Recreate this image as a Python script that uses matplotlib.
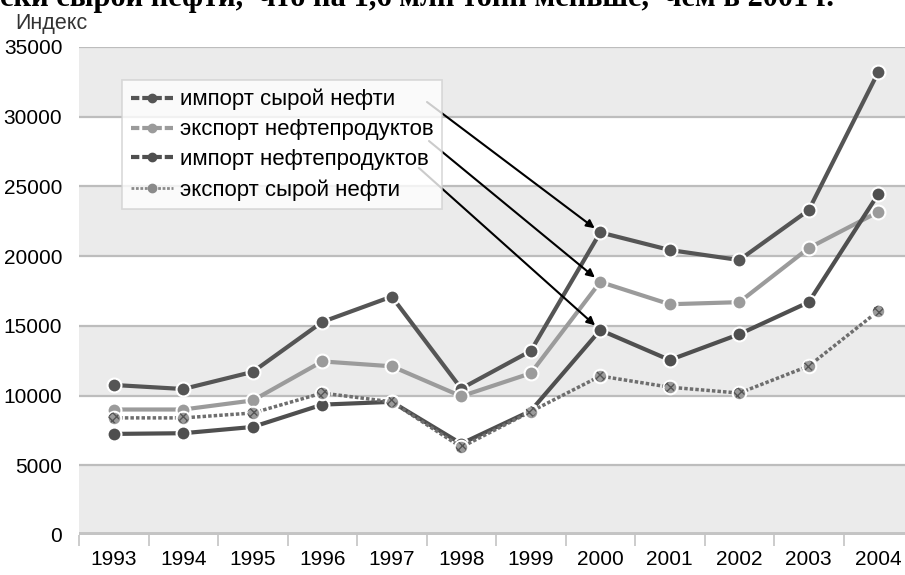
import numpy as np
import matplotlib
matplotlib.use('Agg')
import matplotlib.pyplot as plt
from matplotlib.lines import Line2D

years = ['1993', '1994', '1995', '1996', '1997', '1998',
         '1999', '2000', '2001', '2002', '2003', '2004']
import_crude    = [10760, 10470, 11700, 15280, 17100, 10500,
                   13200, 21700, 20440, 19720, 23300, 33200]
export_products = [9000, 9000, 9650, 12450, 12100, 9950,
                   11600, 18150, 16550, 16700, 20580, 23170]
import_products = [7250, 7300, 7750, 9350, 9550, 6550,
                   8900, 14700, 12550, 14400, 16700, 24450]
export_crude    = [8400, 8400, 8750, 10180, 9550, 6300,
                   8850, 11400, 10600, 10180, 12120, 16060]

labels = ['импорт сырой нефти', 'экспорт нефтепродуктов',
          'импорт нефтепродуктов', 'экспорт сырой нефти']
y_ticks = [0, 5000, 10000, 15000, 20000, 25000, 30000, 35000]

plt.rcParams['font.family'] = ['Liberation Sans', 'DejaVu Sans']

W, H = 905, 575
fig = plt.figure(figsize=(W / 100, H / 100), dpi=100)
ax = fig.add_axes([79 / W, 1 - 535 / H, (913 - 79) / W, (535 - 47) / H])

x = np.arange(len(years))

# alternating bands
for lo in range(0, 35000, 10000):
    ax.axhspan(lo, lo + 5000, color='#ebebeb', zorder=0, lw=0)
for v in y_ticks[1:]:
    ax.axhline(v, color='#bdbdbd', lw=1.6, zorder=1)
ax.axhline(0, color='#c4c4c4', lw=5, zorder=1)

kw = dict(lw=3, marker='o', ms=10, mec='white', mew=1.5, zorder=3,
          solid_capstyle='round')
ax.plot(x, import_crude, color='#555555', **kw)
ax.plot(x, export_products, color='#9b9b9b', **kw)
ax.plot(x, import_products, color='#4f4f4f', **kw)
ax.plot(x, export_crude, color='#6e6e6e', lw=2.5, ls=(0, (1, 0.6)), zorder=4)
ax.scatter(x, export_crude, s=95, facecolor='#9a9a9a', edgecolor='white',
           linewidths=1.5, zorder=5)
ax.scatter(x, export_crude, s=60, facecolor='none', edgecolor='#555555',
           hatch='xxxx', linewidths=0, zorder=6)

ax.set_xlim(-0.5, 11.5)
ax.set_ylim(0, 35000)
ax.set_yticks(y_ticks)
ax.set_yticklabels([str(v) for v in y_ticks], fontsize=15)
ax.set_xticks(x)
ax.set_xticklabels(years, fontsize=15)
ax.set_xticks(np.arange(-0.5, 12, 1), minor=True)
ax.tick_params(axis='y', length=0, pad=12)
ax.tick_params(axis='x', which='major', length=0, pad=11)
ax.tick_params(axis='x', which='minor', length=8, color='#c4c4c4', width=1.2)
for s in ax.spines.values():
    s.set_visible(False)

handles = [
    Line2D([], [], color='#555555', lw=3, ls=(0, (2, 0.7)), marker='o', ms=6, markevery=[1]),
    Line2D([], [], color='#9b9b9b', lw=3, ls=(0, (2, 0.7)), marker='o', ms=6, markevery=[1]),
    Line2D([], [], color='#4f4f4f', lw=3, ls=(0, (2, 0.7)), marker='o', ms=6, markevery=[1]),
    Line2D([], [], color='#8a8a8a', lw=2, ls=(0, (1, 0.6)), marker='o', ms=6, markevery=[1]),
]
for h in handles:
    h.set_xdata([0, 0.5, 1])
leg = fig.legend(handles, labels, loc='upper left',
                 bbox_to_anchor=(122 / W, 1 - 80 / H), fontsize=16,
                 frameon=True, fancybox=False, handlelength=1.9,
                 handletextpad=0.3, labelspacing=0.4, borderpad=0.4,
                 borderaxespad=0)
leg.get_frame().set_edgecolor('#d0d0d0')
leg.get_frame().set_linewidth(1.2)

# arrows from legend to the 2000 points
starts = [(427, 102), (429, 141), (419, 168)]
for (sx, sy), series in zip(starts, [import_crude, export_products, import_products]):
    ax.annotate('', xy=(7, series[7]), xycoords='data',
                xytext=(sx, H - sy), textcoords='figure pixels',
                arrowprops=dict(arrowstyle='-|>', color='black', lw=1.5,
                                shrinkA=0, shrinkB=5, mutation_scale=12),
                zorder=7)

fig.text(15 / W, 1 - 23 / H, 'Индекс', fontsize=15.5, va='center', ha='left',
         color='#333333')
fig.text(0, 1 - 6 / H, 'ски сырой нефти,  что на 1,6 млн тонн меньше,  чем в 2001 г.',
         fontsize=22, fontweight='bold', family=['Liberation Serif', 'DejaVu Serif'],
         va='baseline', ha='left')

fig.savefig('out.png', dpi=100)
